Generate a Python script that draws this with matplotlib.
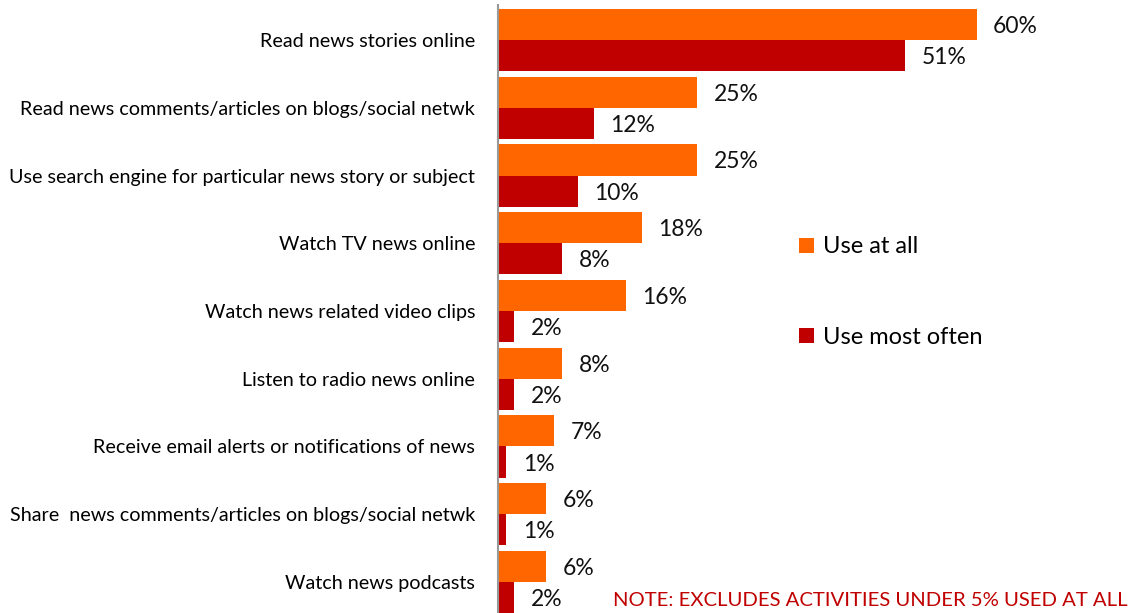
import matplotlib
matplotlib.use("Agg")
import matplotlib.pyplot as plt
import numpy as np

plt.rcParams['font.family'] = ['Lato', 'DejaVu Sans']

categories = ["Read news stories online",
              "Read news comments/articles on blogs/social netwk",
              "Use search engine for particular news story or subject",
              "Watch TV news online",
              "Watch news related video clips",
              "Listen to radio news online",
              "Receive email alerts or notifications of news",
              "Share  news comments/articles on blogs/social netwk",
              "Watch news podcasts"]
use_at_all = [60, 25, 25, 18, 16, 8, 7, 6, 6]
use_most_often = [51, 12, 10, 8, 2, 2, 1, 1, 2]

orange = "#FF6600"
red = "#C00000"

fig = plt.figure(figsize=(11.36, 6.13), dpi=100)
ax = fig.add_axes([498/1136, 0, 1 - 498/1136, 608/613])

y = np.arange(len(categories))
h = 0.46
b1 = ax.barh(y - h/2, use_at_all, height=h, color=orange, label="Use at all")
b2 = ax.barh(y + h/2, use_most_often, height=h, color=red, label="Use most often")

for bars, vals in ((b1, use_at_all), (b2, use_most_often)):
    for bar, v in zip(bars, vals):
        ax.text(v + 2.1, bar.get_y() + bar.get_height()/2 + 0.03, f"{v}%",
                va="center", ha="left", fontsize=16.5, color="#111111")

ax.set_xlim(0, 80)
ax.set_ylim(8.458, -0.517)
ax.set_yticks(y)
ax.set_yticklabels(categories, fontsize=14.2)
ax.tick_params(axis="y", length=0, pad=16.5)
ax.set_xticks([])
for s in ("top", "right", "bottom"):
    ax.spines[s].set_visible(False)
ax.spines["left"].set_color("#999999")
ax.spines["left"].set_linewidth(1.5)

ax.legend(loc="upper left", bbox_to_anchor=(790/1136, 1 - 227/613),
          bbox_transform=fig.transFigure, frameon=False, fontsize=17,
          handlelength=0.6, handleheight=0.6, handletextpad=0.4,
          labelspacing=2.95, borderaxespad=0)

fig.text(1128/1136, 1 - 600/613, "NOTE: EXCLUDES ACTIVITIES UNDER 5% USED AT ALL",
         ha="right", va="center", fontsize=14.6, color=red)

fig.savefig("out.png", dpi=100)
